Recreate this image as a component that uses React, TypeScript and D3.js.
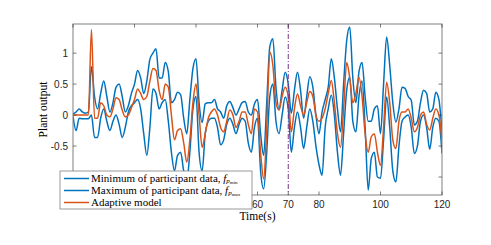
import React from "react";
import * as d3 from "d3";

const times: number[] = d3.range(0, 121, 1);

const minData: number[] = [
  -0.02, -0.25, -0.05, -0.06, -0.06, -0.06, 0.0, -0.36, -0.36, -0.05,
  0.1, -0.1, -0.25, -0.1, 0.0, -0.15, -0.36, -0.2, 0.05, 0.15,
  0.2, 0.25, 0.1, -0.3, -0.65, -0.2, 0.42, 0.35, 0.1, 0.2,
  0.25, -0.1, -0.6, -0.9, -0.65, -0.6, -0.9, -1.05, -0.6, 0.1,
  0.3, -0.6, -0.9, -0.3, -0.1, -0.05, -0.05, -0.2, -0.48, -0.4,
  -0.15, -0.05, -0.15, -0.3, -0.15, -0.05, -0.1, -0.45, -0.6, -0.2,
  -0.05, -0.9, -1.19, -0.6, 0.3, 0.5, -0.1, -0.3, 0.0, 0.29,
  0.1, -0.6, -0.2, 0.05, -0.2, -0.54, -0.2, 0.1, -0.1, -0.5,
  -0.8, -0.97, -0.2, 0.1, 0.32, 0.0, -0.6, -0.97, -0.3, 0.4,
  0.61, -0.1, -0.27, 0.3, 0.55, -0.2, -1.21, -0.7, -0.6, -1.0,
  -1.02, -0.4, 0.29, -0.2, -0.9, -1.08, -0.5, -0.1, -0.03, 0.0,
  -0.2, -0.62, -0.5, -0.1, 0.0, -0.2, -0.55, -0.2, -0.05, -0.1,
  -0.62,
];

const maxData: number[] = [
  0.02, 0.05, 0.1, 0.05, 0.03, 0.05, 0.78, 0.3, 0.1, 0.35,
  0.55, 0.3, 0.05, 0.2, 0.45, 0.5, 0.3, 0.05, 0.15, 0.35,
  0.5, 0.72, 0.6, 0.35, 0.55, 0.9, 1.0, 1.07, 0.6, 0.6,
  0.85, 0.7, 0.2, 0.25, 0.37, 0.33, -0.05, -0.3, 0.25, 0.75,
  0.91, 0.2, -0.12, 0.18, 0.2, 0.2, 0.25, 0.1, 0.05, -0.05,
  0.15, 0.22, 0.12, 0.0, 0.1, 0.2, 0.22, 0.05, 0.0, 0.18,
  0.25, -0.3, -0.65, 0.2, 1.1, 1.23, 0.45, 0.1, 0.4, 0.69,
  0.5, 0.03, 0.4, 0.69, 0.4, -0.05, 0.3, 0.62, 0.45, 0.0,
  -0.3, 0.05, 0.25, 0.45, 0.91, 0.6, 0.1, -0.27, 0.5, 1.2,
  1.42, 0.6, 0.2, 0.7, 0.85, 0.3, -0.1, -0.1, 0.1, 0.15,
  -0.3, 0.5, 1.26, 0.8, 0.2, -0.11, 0.1, 0.45, 0.43, 0.3,
  0.24, -0.16, -0.1, 0.2, 0.4, 0.35, 0.05, 0.1, 0.37, 0.25,
  -0.27,
];

const adaptiveData: number[] = [
  0, 0, 0, 0, 0, 0, 1.38, -0.05, -0.05, 0.2,
  0.15, 0.0, -0.03, 0.1, 0.28, 0.25, 0.08, -0.03, 0.0, 0.12,
  0.25, 0.42, 0.35, 0.25, 0.3, 0.55, 0.75, 0.72, 0.4, 0.25,
  0.5, 0.45, 0.0, -0.4, -0.25, -0.22, -0.45, -0.76, -0.4, 0.2,
  0.5, 0.0, -0.52, -0.3, -0.05, 0.05, 0.1, 0.0, -0.2, -0.27,
  -0.1, 0.08, 0.0, -0.2, -0.1, 0.05, 0.05, -0.15, -0.3, 0.1,
  0.05, -0.6, -1.03, -0.2, 1.02, 0.8, 0.2, 0.08, 0.3, 0.45,
  0.3, -0.27, 0.1, 0.34, 0.15, 0.0, 0.2, 0.38, 0.3, 0.0,
  -0.1, -0.05, 0.1, 0.35, 0.56, 0.2, -0.3, -0.52, 0.1, 0.85,
  0.6, 0.2, 0.35, 0.61, 0.3, -0.3, -0.6, -0.35, -0.3, -0.6,
  -0.81, -0.2, 0.53, 0.2, -0.4, -0.54, -0.1, 0.05, 0.05, 0.1,
  -0.05, -0.27, -0.2, 0.0, 0.05, -0.15, -0.24, -0.05, 0.1, 0.0,
  -0.41,
];

const xTicks: number[] = [0, 20, 40, 60, 70, 80, 100, 120];
const xTickLabels: number[] = [60, 70, 80, 100, 120];
const yTicks: number[] = [-1, -0.5, 0, 0.5, 1];
const yTickLabels: number[] = [-0.5, 0, 0.5, 1];
const switchTime = 70;

const W = 491;
const H = 245;
const M = { left: 73, right: 49, top: 24, bottom: 50 };

export default function App() {
  const x = d3.scaleLinear().domain([0, 120]).range([M.left, W - M.right]);
  const y = d3.scaleLinear().domain([-1.29, 1.47]).range([H - M.bottom, M.top]);
  const line = (vals: number[]) =>
    d3
      .line<number>()
      .x((_, i) => x(times[i]))
      .y((d) => y(d))
      .curve(d3.curveMonotoneX)(vals) || "";

  const x0 = M.left;
  const x1 = W - M.right;
  const y0 = H - M.bottom;
  const y1 = M.top;
  const tl = 3.5;
  const axisColor = "#262626";
  const blue = "#0072BD";
  const orange = "#D95319";
  const serif = "'Liberation Serif', 'Times New Roman', serif";
  const sans = "'Liberation Sans', Arial, sans-serif";

  const legX = 60;
  const legY = 171;
  const legW = 192;
  const legH = 38;
  const rows = [legY + 7.5, legY + 19.5, legY + 31.5];

  return (
    <svg width={W} height={H} style={{ position: "absolute", left: 0, top: 0 }}>
      <rect x={0} y={0} width={W} height={H} fill="#fff" />
      <defs>
        <clipPath id="plotclip">
          <rect x={x0} y={y1} width={x1 - x0} height={y0 - y1} />
        </clipPath>
      </defs>
      <g clipPath="url(#plotclip)">
        <path d={line(minData)} fill="none" stroke={blue} strokeWidth={1.5} strokeLinejoin="round" />
        <path d={line(maxData)} fill="none" stroke={blue} strokeWidth={1.5} strokeLinejoin="round" />
        <path d={line(adaptiveData)} fill="none" stroke={orange} strokeWidth={1.5} strokeLinejoin="round" />
        <line
          x1={x(switchTime)}
          x2={x(switchTime)}
          y1={y1}
          y2={y0}
          stroke="#7E2F8E"
          strokeWidth={1}
          strokeDasharray="5,2,1,2"
        />
      </g>
      <rect x={x0} y={y1} width={x1 - x0} height={y0 - y1} fill="none" stroke="#808080" strokeWidth={1} />
      {xTicks.map((t) => (
        <g key={"xt" + t}>
          <line x1={x(t)} x2={x(t)} y1={y0} y2={y0 - tl} stroke={axisColor} strokeWidth={0.6} />
          <line x1={x(t)} x2={x(t)} y1={y1} y2={y1 + tl} stroke={axisColor} strokeWidth={0.6} />
        </g>
      ))}
      {xTickLabels.map((t) => (
        <text key={"xl" + t} x={x(t)} y={y0 + 13} textAnchor="middle" fontFamily={sans} fontSize={10} fill={axisColor}>
          {t}
        </text>
      ))}
      {yTicks.map((v) => (
        <g key={"yt" + v}>
          <line x1={x0} x2={x0 + tl} y1={y(v)} y2={y(v)} stroke={axisColor} strokeWidth={0.6} />
          <line x1={x1} x2={x1 - tl} y1={y(v)} y2={y(v)} stroke={axisColor} strokeWidth={0.6} />
        </g>
      ))}
      {yTickLabels.map((v) => (
        <text key={"yl" + v} x={x0 - 5} y={y(v) + 3.5} textAnchor="end" fontFamily={sans} fontSize={10} fill={axisColor}>
          {v}
        </text>
      ))}
      <text
        transform={`translate(${47},${(y0 + y1) / 2}) rotate(-90)`}
        textAnchor="middle"
        fontFamily={serif}
        fontSize={11.5}
        fill="#000"
      >
        Plant output
      </text>
      <text x={(x0 + x1) / 2} y={y0 + 25} textAnchor="middle" fontFamily={serif} fontSize={11.5} fill="#000">
        Time(s)
      </text>
      <rect x={legX} y={legY} width={legW} height={legH} fill="#fff" stroke="#808080" strokeWidth={0.8} />
      {[
        { c: blue, label: "Minimum of participant data, ", sub: "min" },
        { c: blue, label: "Maximum of participant data, ", sub: "max" },
        { c: orange, label: "Adaptive model", sub: "" },
      ].map((r, i) => (
        <g key={"lg" + i}>
          <line x1={legX + 4} x2={legX + 29} y1={rows[i]} y2={rows[i]} stroke={r.c} strokeWidth={1.5} />
          <text x={legX + 31} y={rows[i] + 3.5} fontFamily={serif} fontSize={11} fill="#000">
            {r.label}
            {r.sub && (
              <>
                <tspan fontStyle="italic">f</tspan>
                <tspan fontStyle="italic" fontSize={7} dy={1}>
                  p
                </tspan>
                <tspan fontSize={5} dy={0.6}>
                  {r.sub}
                </tspan>
              </>
            )}
          </text>
        </g>
      ))}
    </svg>
  );
}
